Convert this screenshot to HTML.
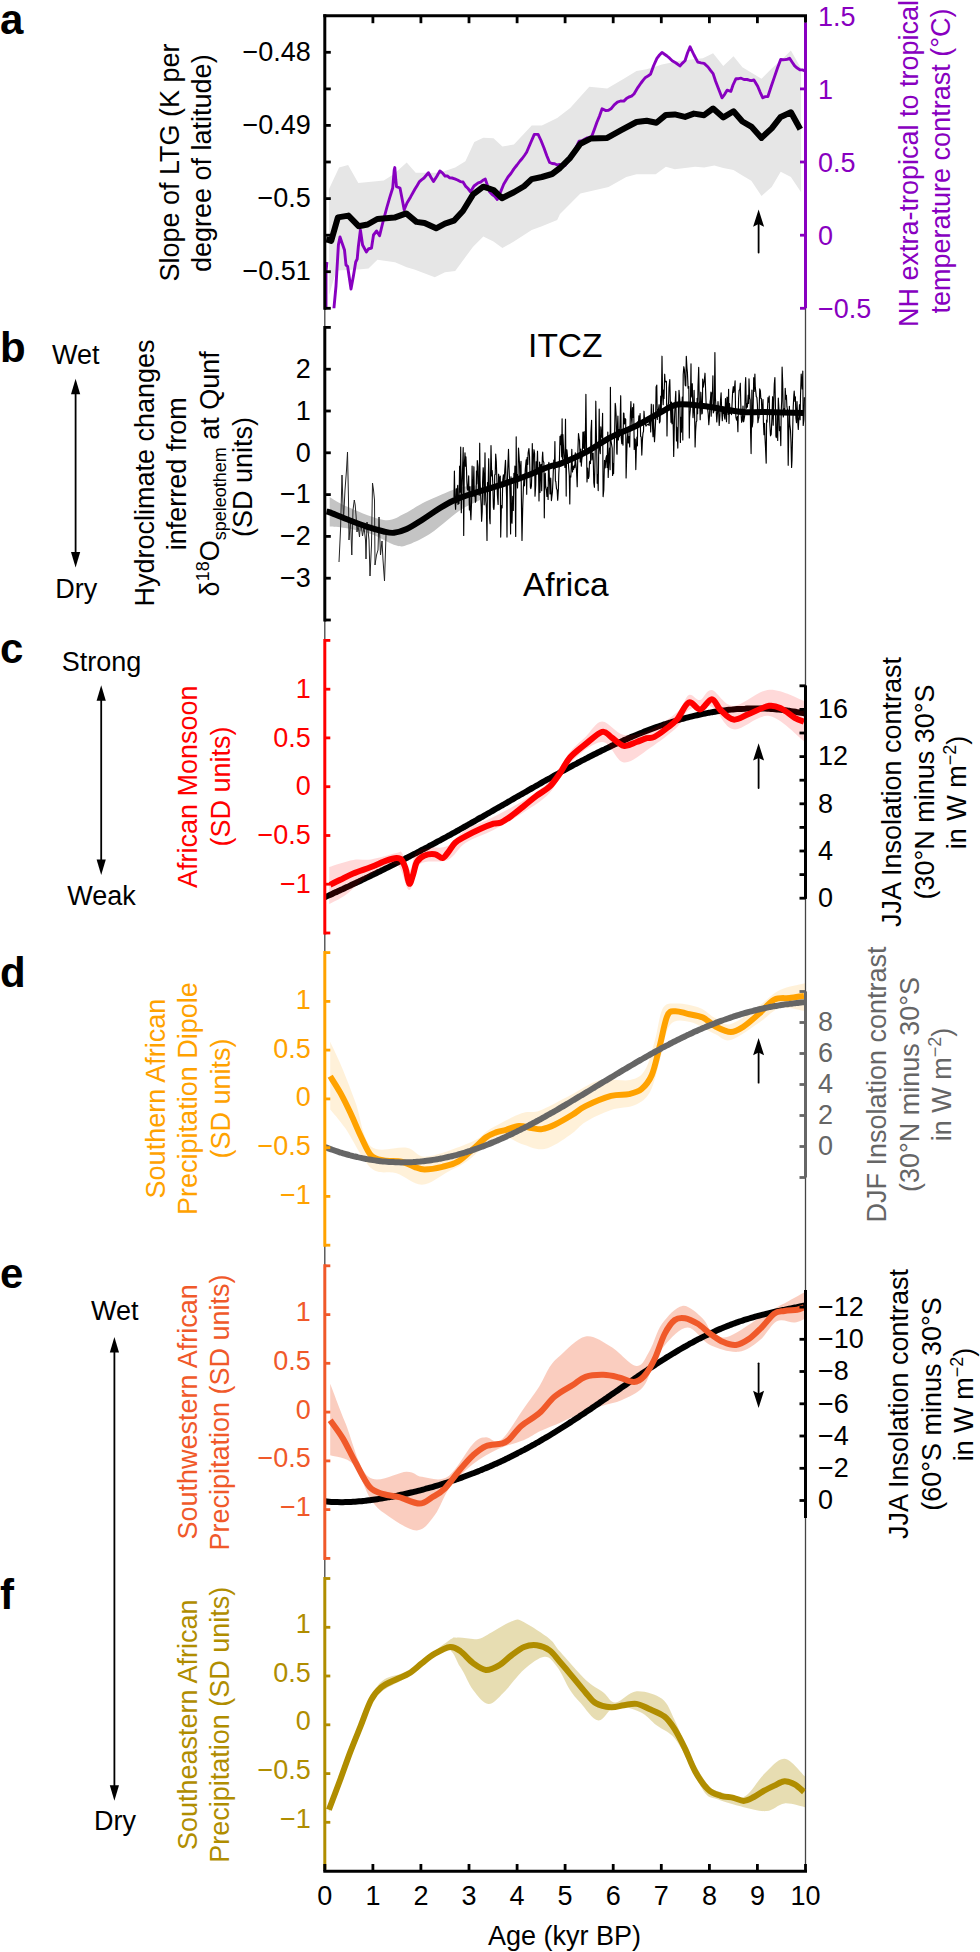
<!DOCTYPE html>
<html><head><meta charset="utf-8"><style>html,body{margin:0;padding:0;background:#fff;overflow:hidden;width:980px;height:1952px;}svg{display:block;}text{font-family:"Liberation Sans",sans-serif;}</style></head>
<body>
<svg width="980" height="1952" viewBox="0 0 980 1952" font-family="Liberation Sans, sans-serif">
<rect width="980" height="1952" fill="#fff"/>
<defs>
<clipPath id="cp0"><rect x="324.8" y="15.7" width="480.7" height="292.6"/></clipPath>
<clipPath id="cp1"><rect x="324.8" y="327.4" width="480.7" height="292.6"/></clipPath>
<clipPath id="cp2"><rect x="324.8" y="640.4" width="480.7" height="292.6"/></clipPath>
<clipPath id="cp3"><rect x="324.8" y="952.6" width="480.7" height="292.6"/></clipPath>
<clipPath id="cp4"><rect x="324.8" y="1265.8" width="480.7" height="292.6"/></clipPath>
<clipPath id="cp5"><rect x="324.8" y="1578.5" width="480.7" height="292.6"/></clipPath>
</defs>
<line x1="324.8" y1="15.7" x2="324.8" y2="1871.5" stroke="#444" stroke-width="1.3" />
<line x1="805.5" y1="15.7" x2="805.5" y2="1871.5" stroke="#444" stroke-width="1.3" />
<path d="M328.9 189.3 L339.1 167.6 L348.1 165 L358.3 182.9 L383.8 180.4 L394 174 L406.7 162.5 L415.7 172.7 L439.9 172.7 L455.2 167.6 L465.4 161.2 L474.3 142.1 L483.3 137.8 L493.5 138.3 L502.4 146.4 L513.9 144.6 L531.7 125.5 L541.9 125.5 L557.2 117.9 L570.2 108 L589.3 86.8 L607.2 88.4 L623.8 78.7 L636.5 71 L646.7 69.2 L662 64.6 L679.9 60.8 L702.9 58.3 L713.1 53.2 L723.3 65.9 L733.5 56.2 L742.4 67.2 L761.5 78.7 L771.7 68.5 L781.9 59.5 L790.9 50.6 L801.1 68.5 L801.1 192.2 L790.9 176.9 L780.7 171.8 L771.7 187.1 L761.5 196 L751.3 180.7 L742.4 175.6 L733.5 170 L723.3 168 L714.3 165.4 L704.1 167.4 L695.2 166.7 L674.8 169.2 L665.9 166.7 L655.7 174.3 L636.5 174.3 L626.3 176.9 L608.5 187.1 L580.4 193.5 L570.2 203.7 L560 213.9 L557.2 219.9 L541.9 226.3 L531.7 230.1 L513.9 241.6 L502.4 248 L493.5 241.6 L483.3 236.5 L473.1 246.7 L455.2 270.9 L445 272.2 L434.8 277.3 L414.4 269.6 L406.7 267.3 L395 262.2 L377.4 259.8 L368.5 268.4 L358.3 269.6 L336.3 270.4 L329.2 295 Z" stroke="none" stroke-width="1" fill="#E6E6E6" clip-path="url(#cp0)"/>
<path d="M333 320 L334 307.5 L336 286 L338.4 244.9 L340 237 L342.4 243.9 L344.5 250 L346 265 L347.6 266.3 L351 289 L353.5 275.5 L355.7 262 L357.2 259 L358.3 247 L360.4 230 L362.6 245 L366.4 252 L368.4 249 L371.5 248 L373.5 235 L376.6 231 L379.6 235.7 L382.7 223 L386.7 208 L389.7 197.6 L392.7 188 L394.2 170 L394.8 167.6 L395.8 180 L396.5 186.7 L400 188 L404.2 209.7 L407 203 L410.6 196.9 L415 189 L417.2 185.4 L419.5 181.6 L421.8 179.6 L424 178 L428.4 172.7 L430.9 177.3 L433.5 181.6 L436.7 176.5 L439.9 170.9 L442.4 172.8 L445 176 L447.3 175.9 L449.7 177.9 L452 178 L454.8 178.8 L457.5 180 L460.3 181.6 L463 182 L465.5 186.1 L468 188.5 L470.5 191.8 L474 186 L478.2 182.9 L480.6 182.2 L482.9 180.3 L485.3 179.1 L489.6 191.8 L492.2 194.6 L494.7 196.4 L497.3 199.5 L500.5 192.1 L503.7 184.2 L508 177 L510.9 173.5 L513.9 168.9 L517 165 L520 161 L522.2 158.5 L524.4 155.5 L526.6 152.3 L531 142 L534.3 134.4 L538.1 134.4 L541 140.5 L544 148 L546.8 155.7 L549.6 162.5 L552.1 163.5 L554.7 163.8 L557.2 165 L559.8 164.4 L562.5 165.9 L565.1 165.4 L567.4 161.9 L569.7 158.8 L572 155 L574.4 151 L576.7 146.1 L579.1 141.2 L582 140.8 L585 139 L587.3 137.9 L589.6 137.5 L591.9 136.1 L594.5 129 L597 122 L599.5 116.1 L602.1 108.8 L605.9 110.6 L608.5 110.3 L611 108.8 L614.2 104.8 L617.4 102.1 L620.6 101 L623.8 101.1 L626.4 98.6 L629 97 L631.5 96.2 L634 94 L637.8 87.6 L641 83 L643.2 80.1 L645.5 77.4 L648 76 L650.6 74.1 L653.5 66 L656.9 58.3 L659.5 55 L662 52.4 L664.5 54.2 L667 56 L669.6 58.2 L672.2 60.8 L676 63 L679.9 65.9 L682.5 63.1 L685 60.8 L687.5 53 L690.1 46.8 L694 55 L697.8 62.1 L701 62.9 L704.1 63.4 L708 67 L710.5 70.4 L713.1 73.6 L715.6 81.2 L719 90 L722 97.8 L724.5 94.6 L727.1 90.2 L730.9 91.4 L733 85 L736 78.7 L738.5 78.7 L741.1 78.2 L744 79.5 L747 79.5 L749.3 80.2 L751.6 80.6 L753.9 80 L757.7 86.3 L760.2 92.3 L762.8 97.8 L765.3 96.6 L767.9 96.5 L771 87 L774.3 77.4 L777.5 68 L780.7 59.5 L782.9 59.8 L785.2 59.6 L787.4 59.2 L789.6 58.3 L792.2 62.2 L794.7 65.9 L797.2 68.1 L799.8 69.7 L802.4 69.9 L805 71" stroke="#8800C0" stroke-width="2.9" fill="none" stroke-linejoin="round" clip-path="url(#cp0)"/>
<path d="M326.9 262 L326 272 L326 320 L333 320" stroke="#8800C0" stroke-width="2.9" fill="none" stroke-linejoin="round" clip-path="url(#cp0)"/>
<path d="M326.2 239.5 L328.2 239.8 L331.2 240.8 L337.9 217.4 L348.4 215.6 L358.6 226.2 L367.6 224.5 L377.3 219 L394.5 217.6 L406.2 213.4 L416.4 221.9 L424.6 223 L436.1 228.3 L445 223.7 L453.9 220.7 L462.9 211 L473.1 194.4 L483.3 186.7 L493.5 190 L501.9 198.2 L513.9 192.3 L524.1 186.2 L531.7 179.1 L541.9 177 L552.1 174 L560 168 L570.2 157.8 L580.4 143.7 L590.6 138.6 L607.2 137.9 L621.2 130.2 L636.5 122 L646.7 120.8 L656.4 122.8 L665.9 114.9 L674.8 114.4 L685 116.9 L693.9 113.6 L704.1 115.2 L713.1 108.5 L723.3 117.4 L733.5 111.3 L742.4 121.5 L751.3 126.6 L761.5 137.9 L771.7 128.4 L780.7 116.9 L790.9 112.3 L800.3 129.2" stroke="#000" stroke-width="6.0" fill="none" stroke-linejoin="round" clip-path="url(#cp0)"/>
<line x1="323.3" y1="15.7" x2="807" y2="15.7" stroke="#000" stroke-width="2.9" />
<line x1="372.9" y1="15.7" x2="372.9" y2="23.2" stroke="#000" stroke-width="2.8" />
<line x1="420.9" y1="15.7" x2="420.9" y2="23.2" stroke="#000" stroke-width="2.8" />
<line x1="469" y1="15.7" x2="469" y2="23.2" stroke="#000" stroke-width="2.8" />
<line x1="517.1" y1="15.7" x2="517.1" y2="23.2" stroke="#000" stroke-width="2.8" />
<line x1="565.1" y1="15.7" x2="565.1" y2="23.2" stroke="#000" stroke-width="2.8" />
<line x1="613.2" y1="15.7" x2="613.2" y2="23.2" stroke="#000" stroke-width="2.8" />
<line x1="661.3" y1="15.7" x2="661.3" y2="23.2" stroke="#000" stroke-width="2.8" />
<line x1="709.4" y1="15.7" x2="709.4" y2="23.2" stroke="#000" stroke-width="2.8" />
<line x1="757.4" y1="15.7" x2="757.4" y2="23.2" stroke="#000" stroke-width="2.8" />
<line x1="324.8" y1="15.7" x2="324.8" y2="308.3" stroke="#000" stroke-width="3" stroke-linecap="square"/>
<line x1="324.8" y1="52.3" x2="330.8" y2="52.3" stroke="#000" stroke-width="2.8" />
<line x1="324.8" y1="88.9" x2="330.8" y2="88.9" stroke="#000" stroke-width="2.8" />
<line x1="324.8" y1="125.4" x2="330.8" y2="125.4" stroke="#000" stroke-width="2.8" />
<line x1="324.8" y1="162" x2="330.8" y2="162" stroke="#000" stroke-width="2.8" />
<line x1="324.8" y1="198.6" x2="330.8" y2="198.6" stroke="#000" stroke-width="2.8" />
<line x1="324.8" y1="235.2" x2="330.8" y2="235.2" stroke="#000" stroke-width="2.8" />
<line x1="324.8" y1="271.7" x2="330.8" y2="271.7" stroke="#000" stroke-width="2.8" />
<line x1="324.8" y1="308.3" x2="330.8" y2="308.3" stroke="#000" stroke-width="2.8" />
<text x="310.8" y="61" font-size="27" text-anchor="end" fill="#000" >&#8722;0.48</text>
<text x="310.8" y="134.1" font-size="27" text-anchor="end" fill="#000" >&#8722;0.49</text>
<text x="310.8" y="207.3" font-size="27" text-anchor="end" fill="#000" >&#8722;0.5</text>
<text x="310.8" y="280.4" font-size="27" text-anchor="end" fill="#000" >&#8722;0.51</text>
<line x1="805.5" y1="15.7" x2="805.5" y2="22.7" stroke="#000" stroke-width="3" />
<line x1="805.5" y1="22.7" x2="805.5" y2="308.3" stroke="#8800C0" stroke-width="3" />
<line x1="805.5" y1="88.9" x2="800" y2="88.9" stroke="#8800C0" stroke-width="2.8" />
<line x1="805.5" y1="162" x2="800" y2="162" stroke="#8800C0" stroke-width="2.8" />
<line x1="805.5" y1="235.2" x2="800" y2="235.2" stroke="#8800C0" stroke-width="2.8" />
<line x1="805.5" y1="308.3" x2="800" y2="308.3" stroke="#8800C0" stroke-width="2.8" />
<text x="818" y="25.6" font-size="27" text-anchor="start" fill="#8800C0" >1.5</text>
<text x="818" y="98.8" font-size="27" text-anchor="start" fill="#8800C0" >1</text>
<text x="818" y="171.9" font-size="27" text-anchor="start" fill="#8800C0" >0.5</text>
<text x="818" y="245" font-size="27" text-anchor="start" fill="#8800C0" >0</text>
<text x="818" y="318.2" font-size="27" text-anchor="start" fill="#8800C0" >&#8722;0.5</text>
<text transform="translate(178.6 162.5) rotate(-90)" font-size="27" text-anchor="middle" fill="#000">Slope of LTG (K per</text>
<text transform="translate(210.6 163.2) rotate(-90)" font-size="27" text-anchor="middle" fill="#000">degree of latitude)</text>
<text transform="translate(917.5 163.5) rotate(-90)" font-size="27" text-anchor="middle" fill="#8800C0">NH extra-tropical to tropical</text>
<text transform="translate(950.1 161) rotate(-90)" font-size="27" text-anchor="middle" fill="#8800C0">temperature contrast (&#176;C)</text>
<line x1="758.6" y1="222.8" x2="758.6" y2="252.5" stroke="#000" stroke-width="1.8" stroke-linecap="round"/>
<path d="M758.6 209.5 L753.1 226.8 L758.6 224.1 L764.1 226.8 Z" fill="#000"/>
<text x="0" y="33.8" font-size="42" text-anchor="start" fill="#000" font-weight="bold" >a</text>
<path d="M329.7 497.1 C332.3 498.6 336.5 502.2 345.5 506 C354.5 509.8 374 518.7 383.8 520 C393.6 521.3 397.8 516.5 404.2 513.7 C410.6 511 414.8 507.1 422 503.5 C429.2 499.9 440.8 494.8 447.6 492 C454.4 489.2 457.5 488.2 462.9 487 C468.3 485.8 477.1 485.3 480 485 L480 500 C477.1 501.4 468.3 505.3 462.9 508.6 C457.5 511.9 453.1 515.8 447.6 520 C442.1 524.2 436.1 530.1 429.7 534.1 C423.3 538.1 414.8 542.4 409.3 544.3 C403.8 546.2 402.9 547.3 396.5 545.6 C390.1 543.9 379.5 537 371 534.1 C362.5 531.2 352.4 529.3 345.5 528 C338.6 526.7 332.3 526.7 329.7 526.4 Z" stroke="none" stroke-width="1" fill="#C4C4C4" clip-path="url(#cp1)"/>
<path d="M339 562 L340.5 530 L342 475 L343.5 520 L345 490 L346.5 470 L347.5 452 L348.5 500 L349 540 L350.5 520 L351.8 555 L353 510 L354.3 500 L355.2 505 L356 515 L357 532 L358 525 L359.5 537 L360.5 522 L361.5 528 L362.5 536 L364 527 L365.5 540 L366 559 L367 522 L368 530 L369 540 L370 576 L371.5 545 L372.5 483 L373.5 490 L374.5 500 L375 565 L376.5 555 L378 550 L379 517 L380.5 555 L382 541 L383 560 L384.5 581 L386 535 L386.6 530" stroke="#222" stroke-width="1.0" fill="none" stroke-linejoin="round"/>
<path d="M454 496.9 L454.4 471.1 L454.9 499.5 L455.6 509.3 L456.3 488.7 L456.7 502.7 L457.1 492.1 L457.7 485.3 L458 504.4 L458.6 495.1 L459 503.5 L459.6 466.2 L460.1 492.2 L460.7 447 L461.3 512.7 L461.9 487.2 L462.6 468.1 L463.2 447.6 L463.7 535.5 L464.3 464.9 L465 452.8 L465.4 466.2 L465.9 456.9 L466.5 470 L466.9 482.8 L467.3 489 L467.9 490.2 L468.7 475.9 L469.4 509.9 L469.9 486.8 L470.3 509.1 L470.9 519.7 L471.6 500.8 L472.1 466.1 L472.7 496 L473.2 491.3 L473.9 466.7 L474.3 496.2 L475 493.6 L475.4 502.3 L475.9 500.9 L476.5 471.1 L476.9 484.1 L477.3 460.5 L478 466.5 L478.5 487.4 L479.2 495.3 L479.7 443.2 L480.1 481 L480.8 498.5 L481.2 506.3 L481.6 521.3 L482.2 511.8 L482.6 481.7 L483.2 467.7 L483.6 474.3 L484.2 504.8 L485 452.9 L485.4 487.1 L485.8 501 L486.4 507.8 L487 540.4 L487.5 482.6 L488.1 489.3 L488.7 458.7 L489.1 476.3 L489.6 518.2 L490.1 523.7 L490.6 472.5 L491 445.5 L491.7 476 L492.2 470.5 L492.8 483.7 L493.4 507.4 L493.9 509.5 L494.3 504.3 L494.7 474.9 L495.2 474.7 L495.7 454 L496.3 461.7 L497 483.2 L497.4 495 L498.1 504.4 L498.6 474.2 L499.1 477.9 L499.8 483.4 L500.3 476 L500.7 537.1 L501.4 505.6 L502.1 507.9 L502.8 479.9 L503.4 474.9 L504.1 482.6 L504.8 469.9 L505.5 460.4 L506.2 485.6 L506.6 497 L507 537.1 L507.4 480.2 L507.7 470.6 L508.5 449.4 L509 466.8 L509.6 480.5 L510.1 499.7 L510.6 533.9 L511 476.7 L511.6 520.1 L512 523.2 L512.7 496.4 L513.3 510.5 L513.9 473.3 L514.6 477.9 L514.9 466.1 L515.7 536.4 L516.2 436.8 L516.5 480.5 L517.1 474.5 L517.5 487.9 L518 474.3 L518.5 448 L519.1 456.9 L519.5 463.4 L519.9 480.7 L520.5 468.2 L521 461.4 L521.5 507.9 L522 540.5 L522.7 507.7 L523.4 487.4 L524 477.9 L524.5 485.8 L525.3 469 L525.8 463.8 L526.2 459.8 L526.7 494.3 L527.1 457.6 L527.8 464.4 L528.1 453.2 L528.9 448.6 L529.5 456.3 L530.1 477.4 L530.4 487.6 L530.8 488.6 L531.4 486.2 L531.9 472 L532.3 443.6 L532.9 474.6 L533.5 456.1 L534 449.7 L534.6 453.6 L535 496.2 L535.7 485.5 L536.2 461.7 L536.8 470.8 L537.5 451.2 L538 473.7 L538.5 467.9 L539 500.9 L539.6 462 L540 492.4 L540.7 465.1 L541.1 464.4 L541.7 490.7 L542.3 457.8 L542.7 452.1 L543.1 460.6 L543.9 462.8 L544.3 517.8 L544.8 477.2 L545.3 473.2 L545.7 486.7 L546.4 489.8 L546.9 496.5 L547.6 487.3 L548.1 499.4 L548.5 465.2 L548.9 462.3 L549.3 475.4 L550 494 L550.7 478.1 L551.4 500.6 L551.9 496.3 L552.4 492.2 L552.9 481.5 L553.3 471.3 L553.8 460.1 L554.4 468.6 L554.9 441.6 L555.4 481.1 L555.8 481.5 L556.5 488.7 L557.1 489.7 L557.7 500.3 L558.4 488.9 L558.8 473.8 L559.3 464.8 L560 436.3 L560.5 444.6 L561.1 434.8 L561.7 456.8 L562.1 418.8 L562.5 459.1 L562.9 434.6 L563.6 449.6 L564.1 459.8 L564.5 460.7 L564.9 467.5 L565.5 419.2 L566.2 496.1 L566.5 453.1 L566.9 449.7 L567.6 457.3 L568.2 459.2 L568.6 467.2 L569.3 475.4 L569.8 503.9 L570.2 476.2 L570.8 477.1 L571.3 466.9 L571.8 449.3 L572.5 472 L573.1 466.6 L573.6 469.4 L574.2 465.4 L574.8 467.7 L575.3 452.9 L575.8 462.6 L576.5 470.4 L577.2 486.7 L577.9 451 L578.5 433.5 L579.1 438.6 L579.5 440.1 L580.2 461.9 L580.8 449.1 L581.3 466.1 L581.8 459.3 L582.3 456.1 L582.9 432.2 L583.6 448.2 L584.1 431.5 L584.7 452 L585.2 450.4 L585.9 394.3 L586.5 444.7 L587 481.9 L587.7 468 L588.4 478.5 L589 476 L589.5 462 L589.8 461.2 L590.5 463.6 L590.9 432.5 L591.6 420.3 L591.9 460 L592.6 453.7 L593.1 453.1 L593.8 482.6 L594.4 487.3 L594.8 471.4 L595.4 441.7 L595.8 401.2 L596.3 430.8 L596.8 453.9 L597.2 483.3 L597.7 474.7 L598.2 490.6 L598.8 441.7 L599.2 409.1 L599.6 447.5 L600.3 453.6 L600.8 426.8 L601.3 434.2 L602 438 L602.6 413.3 L603.1 496.6 L603.8 490 L604.5 460.4 L605.2 467.9 L605.9 458.5 L606.6 455.7 L607.1 467.6 L607.8 432 L608.2 477.4 L608.9 458 L609.5 448.2 L610.1 469.7 L610.4 387.3 L610.8 439.5 L611.5 443.8 L612.2 448.2 L612.6 475.5 L613.2 463.9 L613.6 473.6 L614.1 450.7 L614.5 438.3 L615.2 403.4 L615.6 406.2 L616.1 414.6 L616.8 453.1 L617.1 454.3 L617.5 425.3 L617.9 416.1 L618.4 440 L619 429.5 L619.4 436.7 L620 425.3 L620.7 395.7 L621.2 437.1 L621.8 443.7 L622.4 434.5 L623 445.1 L623.5 413.1 L623.9 413.3 L624.5 424 L625.1 418.5 L625.7 419.3 L626.1 477.9 L626.7 455.8 L627.2 439.3 L627.9 431.5 L628.3 442.9 L629 436.5 L629.7 447 L630.3 416.6 L630.9 401.5 L631.5 418.4 L632 424.7 L632.5 407.6 L633.2 417.3 L633.7 403.8 L634.2 449.4 L634.6 438.7 L635.3 439.4 L635.8 469.6 L636.4 446.2 L636.9 437.2 L637.4 445.8 L637.7 421.8 L638.2 425.9 L638.9 415.9 L639.4 426 L640.1 413.6 L640.6 436.4 L641.2 437 L641.8 455.1 L642.5 438.8 L643 433 L643.5 431.4 L644 411.2 L644.7 422 L645.4 424.3 L646 426.1 L646.6 424.9 L647.1 424.9 L647.8 424.4 L648.4 424.4 L649.1 425.5 L649.6 417.6 L650.2 415.9 L650.7 431.9 L651.3 404.2 L651.6 418 L652.3 422.2 L653 436.7 L653.3 404.7 L653.8 426.1 L654.5 441.7 L655 433.3 L655.6 420.9 L656.1 387 L656.8 385.1 L657.3 419.5 L657.8 409.6 L658.4 410.1 L659.1 404.7 L659.5 422.9 L660.1 421.3 L660.7 396.2 L661.3 409.3 L662 356.2 L662.6 395.8 L663.2 404.7 L663.6 390.1 L664 398.4 L664.7 374.2 L665 380.2 L665.8 382.1 L666.4 381.3 L667 436 L667.4 410.6 L667.9 405.9 L668.6 402.8 L669 387.5 L669.8 379.6 L670.4 405.1 L671 422.3 L671.4 402 L672 423.8 L672.6 404 L673.3 429.9 L673.7 456.4 L674.4 421.5 L675.1 403.6 L675.8 391.4 L676.5 440.9 L676.9 427.2 L677.4 438.3 L677.8 448.1 L678.5 407.6 L679 390.3 L679.8 399.7 L680.4 442.5 L680.8 417.4 L681.4 432.1 L681.9 406 L682.3 397 L682.8 440 L683.2 374.8 L683.8 366.7 L684.5 370.4 L685.2 385.1 L685.8 386 L686.3 356.3 L687 368.4 L687.4 372.3 L688.1 388.1 L688.8 386.5 L689.3 438 L689.6 417.4 L690.3 410 L691 363.8 L691.3 397 L691.8 387 L692.3 383.7 L693 417.6 L693.7 408.4 L694.1 390.4 L694.8 425.7 L695.1 446.9 L695.6 431.5 L696.2 422.1 L696.8 420.7 L697.1 398.3 L697.6 413.8 L698 386.2 L698.7 367.4 L699.3 401.3 L699.8 403.8 L700.2 419.7 L700.8 392.2 L701.3 401.4 L701.8 413.9 L702.3 413.1 L702.7 379 L703.3 387.1 L703.9 383.3 L704.3 380.7 L705 373.2 L705.6 389.8 L706.3 408.2 L706.8 405 L707.4 407.4 L708.2 413.8 L708.8 424.7 L709.4 417.4 L710.1 401.7 L710.5 399 L710.9 392 L711.2 416.2 L711.9 393.6 L712.5 391.8 L712.9 375.8 L713.3 412.9 L713.8 411.6 L714.3 409.4 L714.9 352.5 L715.4 397.8 L716.1 408.7 L716.8 421.9 L717.5 412.3 L718 401.5 L718.6 410.6 L719.2 425.4 L719.9 415.6 L720.4 402.1 L721.1 392.8 L721.6 408.7 L722.3 420.6 L722.8 410.6 L723.2 413.4 L723.7 407.3 L724.3 415.9 L724.9 419.2 L725.5 398.5 L725.9 407.6 L726.5 421.7 L727 397 L727.7 398 L728.1 414.3 L728.6 389.3 L729 423.4 L729.5 403.6 L730.2 413.4 L730.8 410.1 L731.5 414.7 L731.8 410.1 L732.6 392.4 L733.3 386.5 L733.8 392.5 L734.4 389 L735.1 380.8 L735.5 407.2 L735.9 417.3 L736.6 420.1 L737.3 416.5 L737.9 431.7 L738.6 398.4 L739.1 390.6 L739.8 389.2 L740.3 383.2 L741 412.1 L741.6 422.3 L742.3 420.7 L743 406 L743.6 421.8 L744.1 419.5 L744.7 415.7 L745.3 385.2 L745.7 377.5 L746.3 408.5 L746.9 403.8 L747.4 407.1 L748.2 395.1 L748.6 403.4 L749 378.9 L749.7 398 L750.2 399.9 L750.6 432.8 L751.1 453.6 L751.9 390.1 L752.2 427 L752.9 421.4 L753.7 377.7 L754.2 391.5 L754.9 374.1 L755.3 387.4 L755.8 391.9 L756.3 396.7 L756.9 397.5 L757.4 404.8 L757.9 422.7 L758.3 419.9 L759 417 L759.7 388.9 L760.4 391 L760.8 398.4 L761.4 398.6 L761.8 410.5 L762.4 410.2 L763 399.6 L763.4 422.5 L764 434.7 L764.6 423.4 L765 438 L765.5 447.1 L766.2 463.1 L766.6 420.1 L767.1 422.3 L767.5 408.8 L768 397.7 L768.5 402.1 L769.2 396 L769.7 422.2 L770.5 435.8 L771.2 434.2 L771.9 417.9 L772.6 396.7 L773.2 425.2 L773.8 399.1 L774.3 384.1 L774.9 377.6 L775.5 409.7 L775.9 436.2 L776.3 437.6 L776.8 432.2 L777.2 414.9 L777.7 440.4 L778.3 398.1 L778.9 408.3 L779.4 430.6 L780.2 426.8 L780.8 445.6 L781.2 411.2 L781.7 400.7 L782.1 367.1 L782.7 382.8 L783.3 417 L783.8 412.1 L784.4 408.4 L784.8 410.2 L785.2 388.3 L785.9 399.2 L786.4 395.3 L786.9 406.7 L787.6 410.7 L788.2 465.3 L788.6 440 L789.4 406.3 L789.8 424.1 L790.5 430.1 L791 442.2 L791.6 467.4 L792 460.1 L792.6 434.6 L793.2 407.9 L793.8 395.7 L794.2 391 L794.9 401.3 L795.4 396.9 L795.9 417.9 L796.5 422.6 L797 401.5 L797.4 411.8 L797.9 424.3 L798.3 429.4 L798.9 417.4 L799.5 404.7 L800.1 419.8 L800.5 396.2 L801.2 374 L801.8 383 L802.2 388.9 L802.8 371.1 L803.2 425.4 L803.9 419.5 L804.4 397.3" stroke="#000" stroke-width="1.15" fill="none" stroke-linejoin="round" clip-path="url(#cp1)"/>
<path d="M326.5 511.5 C327 511.6 326.5 511.2 329.7 512.4 C332.9 513.6 339.5 516.5 345.5 518.8 C351.5 521.1 359.5 524.3 365.9 526.4 C372.3 528.5 379.1 530.4 383.8 531.5 C388.5 532.6 390.2 533.2 394 532.8 C397.8 532.4 402 531.1 406.7 529 C411.4 526.9 416.9 523.2 422 520 C427.1 516.8 432.2 513 437.3 509.8 C442.4 506.6 446.7 503.6 452.7 500.9 C458.7 498.1 465.5 495.9 473.1 493.3 C480.8 490.8 490.1 488.4 498.6 485.6 C507.1 482.8 515.6 479.9 524.1 476.7 C532.6 473.5 543.6 468.6 549.6 466.5 C555.6 464.4 554 466.2 560 463.9 C566 461.5 577 456.9 585.5 452.4 C594 447.9 602.5 441.6 611 437.1 C619.5 432.7 628 429.9 636.5 425.7 C645 421.4 655.2 415.1 662 411.6 C668.8 408.1 670.5 405.4 677.3 404.5 C684.1 403.6 695.2 405.2 702.9 406 C710.6 406.8 716.5 408.1 723.3 409.1 C730.1 410.1 736.9 411.6 743.7 412.1 C750.5 412.6 754.1 412 764.1 412.1 C774.1 412.2 797.4 412.8 804 412.9" stroke="#000" stroke-width="6.0" fill="none" stroke-linecap="butt" clip-path="url(#cp1)"/>
<line x1="324.8" y1="327.4" x2="324.8" y2="620" stroke="#000" stroke-width="3" stroke-linecap="square"/>
<line x1="324.8" y1="327.4" x2="330.8" y2="327.4" stroke="#000" stroke-width="2.8" />
<line x1="324.8" y1="369.2" x2="330.8" y2="369.2" stroke="#000" stroke-width="2.8" />
<line x1="324.8" y1="411" x2="330.8" y2="411" stroke="#000" stroke-width="2.8" />
<line x1="324.8" y1="452.8" x2="330.8" y2="452.8" stroke="#000" stroke-width="2.8" />
<line x1="324.8" y1="494.6" x2="330.8" y2="494.6" stroke="#000" stroke-width="2.8" />
<line x1="324.8" y1="536.4" x2="330.8" y2="536.4" stroke="#000" stroke-width="2.8" />
<line x1="324.8" y1="578.2" x2="330.8" y2="578.2" stroke="#000" stroke-width="2.8" />
<line x1="324.8" y1="620" x2="330.8" y2="620" stroke="#000" stroke-width="2.8" />
<text x="310.8" y="377.9" font-size="27" text-anchor="end" fill="#000" >2</text>
<text x="310.8" y="419.7" font-size="27" text-anchor="end" fill="#000" >1</text>
<text x="310.8" y="461.5" font-size="27" text-anchor="end" fill="#000" >0</text>
<text x="310.8" y="503.3" font-size="27" text-anchor="end" fill="#000" >&#8722;1</text>
<text x="310.8" y="545.1" font-size="27" text-anchor="end" fill="#000" >&#8722;2</text>
<text x="310.8" y="586.9" font-size="27" text-anchor="end" fill="#000" >&#8722;3</text>
<text x="528.1" y="356.5" font-size="33.5" text-anchor="start" fill="#000" >ITCZ</text>
<text x="523" y="595.7" font-size="33.5" text-anchor="start" fill="#000" >Africa</text>
<text x="0" y="362" font-size="42" text-anchor="start" fill="#000" font-weight="bold" >b</text>
<text x="75.7" y="364" font-size="27" text-anchor="middle" fill="#000" >Wet</text>
<text x="76.3" y="598.1" font-size="27" text-anchor="middle" fill="#000" >Dry</text>
<line x1="75.6" y1="393.3" x2="75.6" y2="553" stroke="#000" stroke-width="1.8" />
<path d="M75.6 378.8 L71 394.3 L80.2 394.3 Z" fill="#000"/>
<path d="M75.6 567.5 L71 552 L80.2 552 Z" fill="#000"/>
<text transform="translate(154.2 473) rotate(-90)" font-size="27" text-anchor="middle" fill="#000">Hydroclimate changes</text>
<text transform="translate(186.3 473.8) rotate(-90)" font-size="27" text-anchor="middle" fill="#000">inferred from</text>
<text transform="translate(219.2 473.8) rotate(-90)" font-size="27" text-anchor="middle" fill="#000">&#948;<tspan font-size="18" dy="-10">18</tspan><tspan dy="10">O</tspan><tspan font-size="18" dy="6.5">speleothem</tspan><tspan dy="-6.5"> at Qunf</tspan></text>
<text transform="translate(252 477) rotate(-90)" font-size="27" text-anchor="middle" fill="#000">(SD units)</text>
<path d="M325 897.2 C325.7 896.9 327.7 896 329 895.4 C330.3 894.8 331.7 894.1 333 893.5 C334.3 892.9 335.7 892.3 337 891.7 C338.3 891.1 339.7 890.4 341 889.8 C342.3 889.2 343.7 888.6 345 888 C346.3 887.4 347.7 886.7 349 886.1 C350.3 885.5 351.7 884.9 353 884.2 C354.3 883.6 355.7 883 357 882.3 C358.3 881.7 359.7 881.1 361 880.5 C362.3 879.8 363.7 879.2 365 878.6 C366.3 877.9 367.7 877.3 369 876.6 C370.3 876 371.7 875.4 373 874.7 C374.3 874.1 375.7 873.4 377 872.8 C378.3 872.1 379.7 871.5 381 870.8 C382.3 870.2 383.7 869.5 385 868.8 C386.3 868.2 387.7 867.5 389 866.9 C390.3 866.2 391.7 865.5 393 864.9 C394.3 864.2 395.7 863.5 397 862.9 C398.3 862.2 399.7 861.5 401 860.8 C402.3 860.2 403.7 859.5 405 858.8 C406.3 858.1 407.7 857.4 409 856.7 C410.3 856.1 411.7 855.4 413 854.7 C414.3 854 415.7 853.3 417 852.6 C418.3 851.9 419.7 851.2 421 850.5 C422.3 849.8 423.7 849.1 425 848.4 C426.3 847.7 427.7 847 429 846.2 C430.3 845.5 431.7 844.8 433 844.1 C434.3 843.4 435.7 842.7 437 841.9 C438.3 841.2 439.7 840.5 441 839.8 C442.3 839 443.7 838.3 445 837.6 C446.3 836.9 447.7 836.1 449 835.4 C450.3 834.7 451.7 833.9 453 833.2 C454.3 832.4 455.7 831.7 457 831 C458.3 830.2 459.7 829.5 461 828.7 C462.3 828 463.7 827.2 465 826.5 C466.3 825.7 467.7 825 469 824.2 C470.3 823.5 471.7 822.7 473 822 C474.3 821.2 475.7 820.5 477 819.7 C478.3 819 479.7 818.2 481 817.4 C482.3 816.7 483.7 815.9 485 815.2 C486.3 814.4 487.7 813.6 489 812.9 C490.3 812.1 491.7 811.4 493 810.6 C494.3 809.8 495.7 809.1 497 808.3 C498.3 807.5 499.7 806.8 501 806 C502.3 805.2 503.7 804.5 505 803.7 C506.3 802.9 507.7 802.2 509 801.4 C510.3 800.6 511.7 799.9 513 799.1 C514.3 798.3 515.7 797.6 517 796.8 C518.3 796 519.7 795.3 521 794.5 C522.3 793.7 523.7 793 525 792.2 C526.3 791.4 527.7 790.7 529 789.9 C530.3 789.2 531.7 788.4 533 787.6 C534.3 786.9 535.7 786.1 537 785.4 C538.3 784.6 539.7 783.9 541 783.1 C542.3 782.3 543.7 781.6 545 780.8 C546.3 780.1 547.7 779.3 549 778.6 C550.3 777.9 551.7 777.1 553 776.4 C554.3 775.6 555.7 774.9 557 774.2 C558.3 773.4 559.7 772.7 561 771.9 C562.3 771.2 563.7 770.5 565 769.8 C566.3 769 567.7 768.3 569 767.6 C570.3 766.9 571.7 766.2 573 765.4 C574.3 764.7 575.7 764 577 763.3 C578.3 762.6 579.7 761.9 581 761.2 C582.3 760.5 583.7 759.8 585 759.1 C586.3 758.4 587.7 757.7 589 757 C590.3 756.4 591.7 755.7 593 755 C594.3 754.3 595.7 753.7 597 753 C598.3 752.3 599.7 751.7 601 751 C602.3 750.4 603.7 749.7 605 749.1 C606.3 748.4 607.7 747.8 609 747.1 C610.3 746.5 611.7 745.9 613 745.2 C614.3 744.6 615.7 744 617 743.4 C618.3 742.8 619.7 742.2 621 741.6 C622.3 741 623.7 740.4 625 739.8 C626.3 739.2 627.7 738.6 629 738 C630.3 737.5 631.7 736.9 633 736.3 C634.3 735.8 635.7 735.2 637 734.6 C638.3 734.1 639.7 733.6 641 733 C642.3 732.5 643.7 731.9 645 731.4 C646.3 730.9 647.7 730.4 649 729.9 C650.3 729.4 651.7 728.9 653 728.4 C654.3 727.9 655.7 727.4 657 726.9 C658.3 726.5 659.7 726 661 725.5 C662.3 725.1 663.7 724.6 665 724.2 C666.3 723.7 667.7 723.3 669 722.9 C670.3 722.4 671.7 722 673 721.6 C674.3 721.2 675.7 720.8 677 720.4 C678.3 720 679.7 719.6 681 719.2 C682.3 718.9 683.7 718.5 685 718.1 C686.3 717.8 687.7 717.4 689 717.1 C690.3 716.8 691.7 716.4 693 716.1 C694.3 715.8 695.7 715.5 697 715.2 C698.3 714.9 699.7 714.6 701 714.3 C702.3 714 703.7 713.7 705 713.5 C706.3 713.2 707.7 713 709 712.7 C710.3 712.5 711.7 712.2 713 712 C714.3 711.8 715.7 711.6 717 711.4 C718.3 711.2 719.7 711 721 710.8 C722.3 710.6 723.7 710.4 725 710.3 C726.3 710.1 727.7 710 729 709.8 C730.3 709.7 731.7 709.6 733 709.4 C734.3 709.3 735.7 709.2 737 709.1 C738.3 709 739.7 708.9 741 708.9 C742.3 708.8 743.7 708.7 745 708.7 C746.3 708.6 747.7 708.6 749 708.5 C750.3 708.5 751.7 708.5 753 708.5 C754.3 708.4 755.7 708.4 757 708.5 C758.3 708.5 759.7 708.5 761 708.5 C762.3 708.5 763.7 708.6 765 708.6 C766.3 708.7 767.7 708.8 769 708.8 C770.3 708.9 771.7 709 773 709.1 C774.3 709.2 775.7 709.3 777 709.4 C778.3 709.6 779.7 709.7 781 709.8 C782.3 710 783.7 710.1 785 710.3 C786.3 710.5 787.7 710.6 789 710.8 C790.3 711 791.7 711.2 793 711.4 C794.3 711.6 795.7 711.8 797 712.1 C798.3 712.3 799.7 712.5 801 712.8 C802.3 713 804.3 713.4 805 713.6" stroke="#000" stroke-width="6.0" fill="none" clip-path="url(#cp2)"/>
<path d="M329.2 867 C333.2 865.8 346.2 861.3 353.2 860 C360.2 858.7 363.8 860.6 371 859.4 C378.2 858.2 391.3 854.1 396.5 853 C401.7 851.9 399.8 850.2 402 853 C404.2 855.8 407.7 870 410 870 C412.3 870 412.7 856.7 416 853 C419.3 849.3 424.7 849.2 430 848 C435.3 846.8 441.7 849 447.6 846 C453.5 843 457.8 834.8 465.4 830 C473 825.2 483.7 822 493.5 817 C503.3 812 514.8 806 524.1 800 C533.5 794 542 789 549.6 781 C557.2 773 564 759.3 570 752 C576 744.7 580.1 742.1 585.5 737 C590.9 731.9 595.7 721.9 602.1 721.6 C608.5 721.3 615.8 733.6 623.8 735 C631.8 736.4 641.1 733.8 650 730 C658.9 726.2 670.8 717.8 677.3 712 C683.8 706.2 685 697 688.8 695 C692.6 693 696.2 700.8 700 700 C703.8 699.2 706.2 689 711.8 690 C717.4 691 723.9 706 733.5 706 C743.1 706 757.3 690.5 769.2 689.7 C781.1 688.9 799 699.3 805 701.2 L805 742 C799 737.7 781.1 718.1 769.2 716 C757.3 713.9 743.1 730.8 733.5 729.3 C723.9 727.8 719.2 710.2 711.8 707 C704.3 703.8 694.5 706.7 688.8 710 C683 713.3 683.8 720.7 677.3 727 C670.8 733.3 658.9 742.1 650 748 C641.1 753.9 631.8 763.4 623.8 762.4 C615.8 761.4 611.1 741.9 602.1 742 C593.1 742.1 578.8 754.5 570 763 C561.2 771.5 557.2 784.8 549.6 793 C542 801.2 533.5 805.8 524.1 812 C514.8 818.2 503.3 824.8 493.5 830 C483.7 835.2 473 838 465.4 843 C457.8 848 455.2 856.5 447.6 860 C440 863.5 426.4 859 420 864 C413.6 869 413.2 890 409.3 890 C405.4 890 402.9 866.7 396.5 864 C390.1 861.3 379.5 868.8 371 874 C362.5 879.2 352.5 890 345.5 895 C338.5 900 331.9 902.5 329.2 904 Z" stroke="none" stroke-width="1" fill="#FF0000" fill-opacity="0.15" clip-path="url(#cp2)"/>
<path d="M330.1 884.9 C331.8 884 336.5 881.7 340.4 879.8 C344.2 877.9 348.1 875.5 353.2 873.4 C358.3 871.3 365.5 869.1 371 867 C376.5 864.9 382.1 862.2 386.3 860.7 C390.6 859.2 393.9 858.2 396.5 858.1 C399.1 858 400.1 858.2 401.6 859.9 C403.1 861.6 404.2 864.3 405.5 868.3 C406.8 872.2 408 882.5 409.3 883.6 C410.6 884.7 411.8 878.3 413.1 874.7 C414.4 871.1 415 865.1 416.9 861.9 C418.8 858.7 421.6 856.9 424.6 855.6 C427.6 854.3 431.8 853.9 434.8 854.3 C437.8 854.7 440.3 858.3 442.4 858.1 C444.5 857.9 445.5 855.5 447.6 853 C449.7 850.5 452.2 845.6 455.2 842.8 C458.2 840 461.1 838.7 465.4 836.4 C469.6 834.1 476 830.9 480.7 828.8 C485.4 826.7 490.1 824.8 493.5 823.7 C496.9 822.6 498.1 823.7 501.1 822.4 C504.1 821.1 507.5 818.8 511.3 816 C515.1 813.2 519.9 809.2 524.1 805.8 C528.4 802.4 532.5 798.8 536.8 795.6 C541 792.4 545.8 790.4 549.6 786.7 C553.4 783 556.4 778.4 559.8 773.5 C563.2 768.6 565.9 762.2 570.2 757.3 C574.5 752.4 580.2 748.4 585.5 744.1 C590.8 739.9 597.9 733 602.1 731.8 C606.4 730.6 607.4 734.5 611 736.9 C614.6 739.2 619.5 745 623.8 745.9 C628 746.8 632.7 743.3 636.5 742 C640.3 740.7 643.7 739.1 646.7 738.2 C649.7 737.4 651 738.6 654.4 736.9 C657.8 735.2 663.3 731 667.1 728 C670.9 725 673.7 723.4 677.3 719.1 C680.9 714.9 685 704.1 688.8 702.5 C692.6 700.9 696.5 709.9 700.3 709.4 C704.1 708.9 708.4 699.1 711.8 699.2 C715.2 699.3 717.1 706.8 720.7 710.2 C724.3 713.6 728.8 719 733.5 719.6 C738.2 720.2 742.8 716.3 748.8 714 C754.8 711.7 763.7 706.6 769.2 705.8 C774.7 704.9 777.6 706.9 781.9 708.9 C786.1 710.9 791 715.7 794.7 717.8 C798.4 719.9 802.5 721 804 721.6" stroke="#FF0000" stroke-width="6.0" fill="none" stroke-linejoin="round" clip-path="url(#cp2)"/>
<line x1="324.8" y1="640.4" x2="324.8" y2="933" stroke="#FF0000" stroke-width="3" stroke-linecap="square"/>
<line x1="324.8" y1="640.4" x2="330.3" y2="640.4" stroke="#FF0000" stroke-width="2.8" />
<line x1="324.8" y1="689.2" x2="330.3" y2="689.2" stroke="#FF0000" stroke-width="2.8" />
<line x1="324.8" y1="737.9" x2="330.3" y2="737.9" stroke="#FF0000" stroke-width="2.8" />
<line x1="324.8" y1="786.7" x2="330.3" y2="786.7" stroke="#FF0000" stroke-width="2.8" />
<line x1="324.8" y1="835.5" x2="330.3" y2="835.5" stroke="#FF0000" stroke-width="2.8" />
<line x1="324.8" y1="884.2" x2="330.3" y2="884.2" stroke="#FF0000" stroke-width="2.8" />
<line x1="324.8" y1="933" x2="330.3" y2="933" stroke="#FF0000" stroke-width="2.8" />
<text x="310.8" y="697.9" font-size="27" text-anchor="end" fill="#FF0000" >1</text>
<text x="310.8" y="746.6" font-size="27" text-anchor="end" fill="#FF0000" >0.5</text>
<text x="310.8" y="795.4" font-size="27" text-anchor="end" fill="#FF0000" >0</text>
<text x="310.8" y="844.2" font-size="27" text-anchor="end" fill="#FF0000" >&#8722;0.5</text>
<text x="310.8" y="892.9" font-size="27" text-anchor="end" fill="#FF0000" >&#8722;1</text>
<line x1="805.5" y1="685.4" x2="805.5" y2="898.9" stroke="#000" stroke-width="3" />
<line x1="805.5" y1="898.2" x2="799.5" y2="898.2" stroke="#000" stroke-width="2.8" />
<line x1="805.5" y1="874.6" x2="799.5" y2="874.6" stroke="#000" stroke-width="2.8" />
<line x1="805.5" y1="851" x2="799.5" y2="851" stroke="#000" stroke-width="2.8" />
<line x1="805.5" y1="827.4" x2="799.5" y2="827.4" stroke="#000" stroke-width="2.8" />
<line x1="805.5" y1="803.8" x2="799.5" y2="803.8" stroke="#000" stroke-width="2.8" />
<line x1="805.5" y1="780.2" x2="799.5" y2="780.2" stroke="#000" stroke-width="2.8" />
<line x1="805.5" y1="756.6" x2="799.5" y2="756.6" stroke="#000" stroke-width="2.8" />
<line x1="805.5" y1="733" x2="799.5" y2="733" stroke="#000" stroke-width="2.8" />
<line x1="805.5" y1="709.4" x2="799.5" y2="709.4" stroke="#000" stroke-width="2.8" />
<line x1="805.5" y1="685.8" x2="799.5" y2="685.8" stroke="#000" stroke-width="2.8" />
<text x="818" y="906.9" font-size="27" text-anchor="start" fill="#000" >0</text>
<text x="818" y="859.7" font-size="27" text-anchor="start" fill="#000" >4</text>
<text x="818" y="812.5" font-size="27" text-anchor="start" fill="#000" >8</text>
<text x="818" y="765.3" font-size="27" text-anchor="start" fill="#000" >12</text>
<text x="818" y="718.1" font-size="27" text-anchor="start" fill="#000" >16</text>
<text transform="translate(901 792) rotate(-90)" font-size="27" text-anchor="middle" fill="#000">JJA Insolation contrast</text>
<text transform="translate(934.1 792) rotate(-90)" font-size="27" text-anchor="middle" fill="#000">(30&#176;N minus 30&#176;S</text>
<text transform="translate(966.2 792.5) rotate(-90)" font-size="27" text-anchor="middle">in W m<tspan font-size="18" dy="-10">&#8722;2</tspan><tspan dy="10">)</tspan></text>
<text transform="translate(196.7 786.7) rotate(-90)" font-size="27" text-anchor="middle" fill="#FF0000">African Monsoon</text>
<text transform="translate(229.8 786.4) rotate(-90)" font-size="27" text-anchor="middle" fill="#FF0000">(SD units)</text>
<text x="101.5" y="670.6" font-size="27" text-anchor="middle" fill="#000" >Strong</text>
<text x="101.5" y="904.5" font-size="27" text-anchor="middle" fill="#000" >Weak</text>
<line x1="101.2" y1="699.8" x2="101.2" y2="860.6" stroke="#000" stroke-width="1.8" />
<path d="M101.2 685.3 L96.6 700.8 L105.8 700.8 Z" fill="#000"/>
<path d="M101.2 875.1 L96.6 859.6 L105.8 859.6 Z" fill="#000"/>
<line x1="758.6" y1="756.6" x2="758.6" y2="788" stroke="#000" stroke-width="1.8" stroke-linecap="round"/>
<path d="M758.6 743.3 L753.1 760.6 L758.6 757.9 L764.1 760.6 Z" fill="#000"/>
<text x="0" y="662.5" font-size="42" text-anchor="start" fill="#000" font-weight="bold" >c</text>
<path d="M330.2 1041.8 C332.3 1046.5 338.8 1059.7 343 1069.9 C347.2 1080.1 351 1090.3 355.7 1103.1 C360.4 1115.8 362.5 1139 371 1146.4 C379.5 1153.8 397.3 1146 406.7 1147.7 C416.1 1149.4 416 1157.7 427.1 1156.6 C438.2 1155.5 462.5 1146 473.1 1141.3 C483.7 1136.6 482.8 1133.3 490.9 1128.6 C499 1123.9 513.4 1116.3 521.5 1113.3 C529.6 1110.3 531.3 1113.7 539.4 1110.7 C547.5 1107.7 559.9 1100.5 570 1095.4 C580.1 1090.3 590 1082.6 600 1080 C610 1077.4 622.5 1081.7 630 1080 C637.5 1078.3 640.8 1076.7 645 1070 C649.2 1063.3 652 1050.3 655 1040 C658 1029.7 659.3 1014.1 663 1008 C666.7 1001.9 671.1 1003.6 677.3 1003.6 C683.5 1003.6 693.7 1005.6 700 1008 C706.3 1010.4 709.8 1015.3 715 1018 C720.2 1020.7 723.5 1026.2 731 1024 C738.5 1021.8 751.8 1010.7 760 1005 C768.2 999.3 772.5 993.6 780 990 C787.5 986.4 800.8 984.3 805 983.2 L805 1011.2 C800.8 1010.7 787.5 1006.2 780 1008 C772.5 1009.8 768.2 1016.7 760 1022 C751.8 1027.3 738.5 1038 731 1040 C723.5 1042 721.8 1037 715 1034 C708.2 1031 697.5 1023.5 690 1022 C682.5 1020.5 675 1018.7 670 1025 C665 1031.3 663.3 1048.8 660 1060 C656.7 1071.2 654.2 1084.5 650 1092 C645.8 1099.5 641.5 1102 635 1105 C628.5 1108 619.2 1107.2 611 1110 C602.8 1112.8 592.3 1117.8 585.5 1122 C578.7 1126.2 576.8 1130.5 570 1135 C563.2 1139.5 552.6 1147.5 544.5 1149 C536.4 1150.5 529.1 1146 521.5 1143.9 C513.9 1141.8 507.5 1133.4 498.6 1136.2 C489.7 1139 476.5 1154.5 468 1160.5 C459.5 1166.5 455.3 1167.9 447.6 1171.9 C439.9 1175.9 430.5 1184.5 422 1184.7 C413.5 1184.9 405 1176 396.5 1173.2 C388 1170.4 379.5 1175.5 371 1168.1 C362.5 1160.7 352.3 1138.4 345.5 1128.6 C338.7 1118.8 332.8 1112.6 330.2 1109.4 Z" stroke="none" stroke-width="1" fill="#FFA200" fill-opacity="0.15" clip-path="url(#cp3)"/>
<path d="M330.2 1076.3 C331.9 1079.1 337 1086.7 340.4 1092.9 C343.8 1099.1 347.2 1106.1 350.6 1113.3 C354 1120.5 357.4 1129.2 360.8 1136.2 C364.2 1143.2 367.2 1151.4 371 1155.4 C374.8 1159.5 378.7 1159.5 383.8 1160.5 C388.9 1161.5 396.5 1160.7 401.6 1161.7 C406.7 1162.8 410.6 1165.5 414.4 1166.8 C418.2 1168.1 419.9 1169.4 424.6 1169.4 C429.3 1169.4 436.9 1168.1 442.4 1166.8 C447.9 1165.5 452.7 1164.7 457.8 1161.7 C462.9 1158.7 468.4 1153 473.1 1149 C477.8 1145 482 1140.3 485.8 1137.5 C489.6 1134.7 492.6 1133.7 496 1132.4 C499.4 1131.1 502.4 1130.9 506.2 1129.8 C510 1128.7 514.8 1126.3 519 1126 C523.2 1125.7 527.9 1127.6 531.7 1128.1 C535.5 1128.6 538.1 1129.7 541.9 1129.1 C545.7 1128.5 549.6 1127.1 554.7 1124.7 C559.9 1122.3 567.7 1117.6 572.8 1114.5 C577.9 1111.4 579.1 1109.2 585.5 1106.1 C591.9 1103 603.8 1097.9 611 1095.9 C618.2 1093.9 623.8 1095.2 628.9 1094.1 C634 1092.9 637.8 1092.2 641.6 1089 C645.4 1085.8 648.8 1082 651.8 1075 C654.8 1068 657 1056.7 659.5 1046.9 C662 1037.1 664.6 1022.2 667.1 1016.3 C669.6 1010.3 671.4 1011.6 674.8 1011.2 C678.2 1010.8 682.9 1012.7 687.6 1013.8 C692.3 1014.9 698.2 1015.5 702.9 1017.6 C707.6 1019.7 710.9 1024.1 715.6 1026.5 C720.3 1028.9 726.2 1032.1 730.9 1032.1 C735.6 1032.1 739 1029.5 743.7 1026.5 C748.4 1023.5 753.9 1018.3 759 1013.8 C764.1 1009.3 769.2 1002.3 774.3 999.7 C779.4 997.1 784.6 998.6 789.6 998 C794.6 997.4 801.6 996.2 804 995.9" stroke="#FFA200" stroke-width="6.0" fill="none" clip-path="url(#cp3)"/>
<path d="M325.1 1147.1 C325.8 1147.4 327.8 1148.1 329.1 1148.6 C330.4 1149.1 331.8 1149.6 333.1 1150 C334.4 1150.5 335.8 1151 337.1 1151.4 C338.4 1151.8 339.8 1152.3 341.1 1152.7 C342.4 1153.1 343.8 1153.5 345.1 1153.9 C346.4 1154.3 347.8 1154.7 349.1 1155 C350.4 1155.4 351.8 1155.7 353.1 1156.1 C354.4 1156.4 355.8 1156.7 357.1 1157 C358.4 1157.4 359.8 1157.7 361.1 1157.9 C362.4 1158.2 363.8 1158.5 365.1 1158.8 C366.4 1159 367.8 1159.3 369.1 1159.5 C370.4 1159.7 371.8 1159.9 373.1 1160.1 C374.4 1160.3 375.8 1160.5 377.1 1160.7 C378.4 1160.9 379.8 1161 381.1 1161.2 C382.4 1161.3 383.8 1161.5 385.1 1161.6 C386.4 1161.7 387.8 1161.8 389.1 1161.9 C390.4 1162 391.8 1162.1 393.1 1162.1 C394.4 1162.2 395.8 1162.3 397.1 1162.3 C398.4 1162.3 399.8 1162.4 401.1 1162.4 C402.4 1162.4 403.8 1162.4 405.1 1162.3 C406.4 1162.3 407.8 1162.3 409.1 1162.2 C410.4 1162.2 411.8 1162.1 413.1 1162.1 C414.4 1162 415.8 1161.9 417.1 1161.8 C418.4 1161.7 419.8 1161.6 421.1 1161.4 C422.4 1161.3 423.8 1161.2 425.1 1161 C426.4 1160.9 427.8 1160.7 429.1 1160.5 C430.4 1160.3 431.8 1160.1 433.1 1159.9 C434.4 1159.7 435.8 1159.5 437.1 1159.3 C438.4 1159 439.8 1158.8 441.1 1158.5 C442.4 1158.2 443.8 1158 445.1 1157.7 C446.4 1157.4 447.8 1157.1 449.1 1156.8 C450.4 1156.5 451.8 1156.2 453.1 1155.8 C454.4 1155.5 455.8 1155.1 457.1 1154.8 C458.4 1154.4 459.8 1154 461.1 1153.7 C462.4 1153.3 463.8 1152.9 465.1 1152.5 C466.4 1152.1 467.8 1151.6 469.1 1151.2 C470.4 1150.8 471.8 1150.3 473.1 1149.9 C474.4 1149.4 475.8 1149 477.1 1148.5 C478.4 1148 479.8 1147.5 481.1 1147 C482.4 1146.6 483.8 1146 485.1 1145.5 C486.4 1145 487.8 1144.5 489.1 1144 C490.4 1143.4 491.8 1142.9 493.1 1142.3 C494.4 1141.8 495.8 1141.2 497.1 1140.6 C498.4 1140.1 499.8 1139.5 501.1 1138.9 C502.4 1138.3 503.8 1137.7 505.1 1137.1 C506.4 1136.5 507.8 1135.9 509.1 1135.2 C510.4 1134.6 511.8 1134 513.1 1133.3 C514.4 1132.7 515.8 1132 517.1 1131.4 C518.4 1130.7 519.8 1130.1 521.1 1129.4 C522.4 1128.7 523.8 1128 525.1 1127.3 C526.4 1126.7 527.8 1126 529.1 1125.3 C530.4 1124.6 531.8 1123.9 533.1 1123.1 C534.4 1122.4 535.8 1121.7 537.1 1121 C538.4 1120.3 539.8 1119.5 541.1 1118.8 C542.4 1118.1 543.8 1117.3 545.1 1116.6 C546.4 1115.8 547.8 1115.1 549.1 1114.3 C550.4 1113.6 551.8 1112.8 553.1 1112.1 C554.4 1111.3 555.8 1110.5 557.1 1109.8 C558.4 1109 559.8 1108.2 561.1 1107.4 C562.4 1106.7 563.8 1105.9 565.1 1105.1 C566.4 1104.3 567.8 1103.5 569.1 1102.7 C570.4 1101.9 571.8 1101.1 573.1 1100.3 C574.4 1099.5 575.8 1098.7 577.1 1097.9 C578.4 1097.1 579.8 1096.3 581.1 1095.5 C582.4 1094.7 583.8 1093.9 585.1 1093.1 C586.4 1092.3 587.8 1091.5 589.1 1090.7 C590.4 1089.9 591.8 1089.1 593.1 1088.3 C594.4 1087.5 595.8 1086.7 597.1 1085.8 C598.4 1085 599.8 1084.2 601.1 1083.4 C602.4 1082.6 603.8 1081.8 605.1 1081 C606.4 1080.2 607.8 1079.4 609.1 1078.6 C610.4 1077.8 611.8 1077 613.1 1076.2 C614.4 1075.4 615.8 1074.6 617.1 1073.8 C618.4 1073 619.8 1072.2 621.1 1071.4 C622.4 1070.6 623.8 1069.8 625.1 1069 C626.4 1068.2 627.8 1067.4 629.1 1066.6 C630.4 1065.8 631.8 1065 633.1 1064.3 C634.4 1063.5 635.8 1062.7 637.1 1061.9 C638.4 1061.2 639.8 1060.4 641.1 1059.6 C642.4 1058.9 643.8 1058.1 645.1 1057.4 C646.4 1056.6 647.8 1055.8 649.1 1055.1 C650.4 1054.3 651.8 1053.6 653.1 1052.9 C654.4 1052.1 655.8 1051.4 657.1 1050.7 C658.4 1049.9 659.8 1049.2 661.1 1048.5 C662.4 1047.8 663.8 1047.1 665.1 1046.4 C666.4 1045.7 667.8 1045 669.1 1044.3 C670.4 1043.6 671.8 1042.9 673.1 1042.2 C674.4 1041.5 675.8 1040.9 677.1 1040.2 C678.4 1039.5 679.8 1038.9 681.1 1038.2 C682.4 1037.6 683.8 1036.9 685.1 1036.3 C686.4 1035.6 687.8 1035 689.1 1034.4 C690.4 1033.8 691.8 1033.1 693.1 1032.5 C694.4 1031.9 695.8 1031.3 697.1 1030.7 C698.4 1030.1 699.8 1029.5 701.1 1029 C702.4 1028.4 703.8 1027.8 705.1 1027.3 C706.4 1026.7 707.8 1026.1 709.1 1025.6 C710.4 1025 711.8 1024.5 713.1 1024 C714.4 1023.5 715.8 1022.9 717.1 1022.4 C718.4 1021.9 719.8 1021.4 721.1 1020.9 C722.4 1020.4 723.8 1019.9 725.1 1019.5 C726.4 1019 727.8 1018.5 729.1 1018.1 C730.4 1017.6 731.8 1017.2 733.1 1016.7 C734.4 1016.3 735.8 1015.9 737.1 1015.4 C738.4 1015 739.8 1014.6 741.1 1014.2 C742.4 1013.8 743.8 1013.4 745.1 1013 C746.4 1012.7 747.8 1012.3 749.1 1011.9 C750.4 1011.6 751.8 1011.2 753.1 1010.9 C754.4 1010.5 755.8 1010.2 757.1 1009.9 C758.4 1009.5 759.8 1009.2 761.1 1008.9 C762.4 1008.6 763.8 1008.3 765.1 1008 C766.4 1007.7 767.8 1007.5 769.1 1007.2 C770.4 1006.9 771.8 1006.7 773.1 1006.4 C774.4 1006.2 775.8 1005.9 777.1 1005.7 C778.4 1005.5 779.8 1005.2 781.1 1005 C782.4 1004.8 783.8 1004.6 785.1 1004.4 C786.4 1004.2 787.8 1004 789.1 1003.9 C790.4 1003.7 791.8 1003.5 793.1 1003.4 C794.4 1003.2 795.8 1003.1 797.1 1002.9 C798.4 1002.8 799.8 1002.6 801.1 1002.5 C802.4 1002.4 804.4 1002.2 805 1002.2" stroke="#666666" stroke-width="6.0" fill="none" clip-path="url(#cp3)"/>
<line x1="324.8" y1="952.6" x2="324.8" y2="1245.2" stroke="#FFA200" stroke-width="3" stroke-linecap="square"/>
<line x1="324.8" y1="952.6" x2="330.3" y2="952.6" stroke="#FFA200" stroke-width="2.8" />
<line x1="324.8" y1="1001.4" x2="330.3" y2="1001.4" stroke="#FFA200" stroke-width="2.8" />
<line x1="324.8" y1="1050.1" x2="330.3" y2="1050.1" stroke="#FFA200" stroke-width="2.8" />
<line x1="324.8" y1="1098.9" x2="330.3" y2="1098.9" stroke="#FFA200" stroke-width="2.8" />
<line x1="324.8" y1="1147.7" x2="330.3" y2="1147.7" stroke="#FFA200" stroke-width="2.8" />
<line x1="324.8" y1="1196.4" x2="330.3" y2="1196.4" stroke="#FFA200" stroke-width="2.8" />
<line x1="324.8" y1="1245.2" x2="330.3" y2="1245.2" stroke="#FFA200" stroke-width="2.8" />
<text x="310.8" y="1008.9" font-size="27" text-anchor="end" fill="#FFA200" >1</text>
<text x="310.8" y="1057.6" font-size="27" text-anchor="end" fill="#FFA200" >0.5</text>
<text x="310.8" y="1106.4" font-size="27" text-anchor="end" fill="#FFA200" >0</text>
<text x="310.8" y="1155.2" font-size="27" text-anchor="end" fill="#FFA200" >&#8722;0.5</text>
<text x="310.8" y="1203.9" font-size="27" text-anchor="end" fill="#FFA200" >&#8722;1</text>
<line x1="805.5" y1="991.4" x2="805.5" y2="1177.5" stroke="#666666" stroke-width="3" />
<line x1="805.5" y1="1177.5" x2="799.5" y2="1177.5" stroke="#666666" stroke-width="2.8" />
<line x1="805.5" y1="1146.5" x2="799.5" y2="1146.5" stroke="#666666" stroke-width="2.8" />
<line x1="805.5" y1="1115.5" x2="799.5" y2="1115.5" stroke="#666666" stroke-width="2.8" />
<line x1="805.5" y1="1084.5" x2="799.5" y2="1084.5" stroke="#666666" stroke-width="2.8" />
<line x1="805.5" y1="1053.5" x2="799.5" y2="1053.5" stroke="#666666" stroke-width="2.8" />
<line x1="805.5" y1="1022.5" x2="799.5" y2="1022.5" stroke="#666666" stroke-width="2.8" />
<line x1="805.5" y1="991.5" x2="799.5" y2="991.5" stroke="#666666" stroke-width="2.8" />
<text x="818" y="1155.2" font-size="27" text-anchor="start" fill="#666666" >0</text>
<text x="818" y="1124.2" font-size="27" text-anchor="start" fill="#666666" >2</text>
<text x="818" y="1093.2" font-size="27" text-anchor="start" fill="#666666" >4</text>
<text x="818" y="1062.2" font-size="27" text-anchor="start" fill="#666666" >6</text>
<text x="818" y="1031.2" font-size="27" text-anchor="start" fill="#666666" >8</text>
<text transform="translate(886 1084.5) rotate(-90)" font-size="27" text-anchor="middle" fill="#666666">DJF Insolation contrast</text>
<text transform="translate(918.9 1084.5) rotate(-90)" font-size="27" text-anchor="middle" fill="#666666">(30&#176;N minus 30&#176;S</text>
<text transform="translate(950.9 1084.5) rotate(-90)" font-size="27" text-anchor="middle" fill="#666666">in W m<tspan font-size="18" dy="-10">&#8722;2</tspan><tspan dy="10">)</tspan></text>
<text transform="translate(165 1098.6) rotate(-90)" font-size="27" text-anchor="middle" fill="#FFA200">Southern African</text>
<text transform="translate(197.1 1098.6) rotate(-90)" font-size="27" text-anchor="middle" fill="#FFA200">Precipitation Dipole</text>
<text transform="translate(230.3 1098.6) rotate(-90)" font-size="27" text-anchor="middle" fill="#FFA200">(SD units)</text>
<line x1="758.6" y1="1051.3" x2="758.6" y2="1082.7" stroke="#000" stroke-width="1.8" stroke-linecap="round"/>
<path d="M758.6 1038 L753.1 1055.3 L758.6 1052.6 L764.1 1055.3 Z" fill="#000"/>
<text x="0" y="987" font-size="42" text-anchor="start" fill="#000" font-weight="bold" >d</text>
<path d="M330.2 1383.7 C332.8 1390.3 339.1 1407.8 345.5 1423.3 C351.9 1438.8 358.3 1468.7 368.5 1476.8 C378.7 1484.9 397.8 1471.7 406.7 1471.7 C415.6 1471.7 415.2 1476 422 1476.8 C428.8 1477.6 439.1 1482.3 447.6 1476.8 C456.1 1471.3 466.7 1450.3 473.1 1443.7 C479.5 1437.1 481.2 1437.9 485.8 1437.3 C490.4 1436.7 494.6 1444.9 501 1440 C507.4 1435.1 517.7 1417 524.1 1408 C530.5 1399 535.1 1393.1 539.4 1386.3 C543.6 1379.5 546.2 1372.2 549.6 1367.1 C553 1362 554 1360.8 560 1355.7 C566 1350.6 577 1338 585.5 1336.5 C594 1335 602.5 1341.8 611 1346.7 C619.5 1351.6 630 1365.4 636.5 1365.9 C643 1366.5 645.8 1357 650 1350 C654.2 1343 656.6 1331.1 662 1323.8 C667.4 1316.5 675.6 1306.8 682.4 1305.9 C689.2 1305.1 697.8 1314 702.9 1318.7 C708 1323.4 708.6 1331.1 713.1 1334 C717.6 1336.9 721.5 1339.2 730 1336 C738.5 1332.8 755.4 1320 764.1 1314.8 C772.8 1309.6 775.2 1308.4 782 1304.6 C788.8 1300.8 801.2 1294 805 1291.9 L805 1318.7 C803.3 1319.3 799.4 1322.1 794.7 1322.5 C790 1322.9 782.6 1318.3 776.8 1321.2 C771 1324.1 766.4 1334.9 760 1340 C753.6 1345.1 746.9 1351 738.6 1351.8 C730.3 1352.6 718.5 1349 710 1345 C701.5 1341 695.1 1327.6 687.6 1327.6 C680.1 1327.6 670.8 1338.4 665 1345 C659.2 1351.6 656.5 1359.9 652.7 1367 C648.9 1374.1 647.5 1382.3 642.4 1387.8 C637.3 1393.3 628.8 1397 622 1400 C615.2 1403 608.4 1403.8 601.6 1406 C594.8 1408.2 587.8 1410.6 581 1413.3 C574.2 1416 567.6 1419.5 560.8 1422.4 C554 1425.4 546.5 1428.1 540.4 1431 C534.3 1433.9 531.1 1437 524.1 1440 C517.1 1443 507.1 1444.8 498.6 1448.8 C490.1 1452.8 481.2 1457.7 473.1 1464.1 C465 1470.5 456.5 1478.5 450.1 1487 C443.7 1495.5 440.3 1507.9 434.8 1515.1 C429.3 1522.3 424.5 1530.2 416.9 1530.4 C409.2 1530.6 396.5 1521.5 388.9 1516.4 C381.2 1511.3 376.9 1508.5 371 1499.8 C365.1 1491.1 360 1471.5 353.2 1464.1 C346.4 1456.7 334 1456.7 330.2 1455.2 Z" stroke="none" stroke-width="1" fill="#F0592A" fill-opacity="0.3" clip-path="url(#cp4)"/>
<path d="M325.1 1501.3 C325.8 1501.4 327.8 1501.6 329.1 1501.7 C330.4 1501.8 331.8 1501.9 333.1 1501.9 C334.4 1502 335.8 1502.1 337.1 1502.1 C338.4 1502.1 339.8 1502.1 341.1 1502.2 C342.4 1502.2 343.8 1502.1 345.1 1502.1 C346.4 1502.1 347.8 1502 349.1 1502 C350.4 1501.9 351.8 1501.9 353.1 1501.8 C354.4 1501.7 355.8 1501.6 357.1 1501.5 C358.4 1501.4 359.8 1501.3 361.1 1501.2 C362.4 1501.1 363.8 1500.9 365.1 1500.8 C366.4 1500.6 367.8 1500.5 369.1 1500.3 C370.4 1500.1 371.8 1500 373.1 1499.8 C374.4 1499.6 375.8 1499.4 377.1 1499.2 C378.4 1499 379.8 1498.8 381.1 1498.6 C382.4 1498.4 383.8 1498.2 385.1 1497.9 C386.4 1497.7 387.8 1497.5 389.1 1497.2 C390.4 1497 391.8 1496.7 393.1 1496.5 C394.4 1496.2 395.8 1495.9 397.1 1495.7 C398.4 1495.4 399.8 1495.1 401.1 1494.8 C402.4 1494.5 403.8 1494.2 405.1 1493.9 C406.4 1493.6 407.8 1493.3 409.1 1493 C410.4 1492.7 411.8 1492.4 413.1 1492.1 C414.4 1491.8 415.8 1491.4 417.1 1491.1 C418.4 1490.8 419.8 1490.4 421.1 1490.1 C422.4 1489.7 423.8 1489.4 425.1 1489 C426.4 1488.6 427.8 1488.3 429.1 1487.9 C430.4 1487.5 431.8 1487.2 433.1 1486.8 C434.4 1486.4 435.8 1486 437.1 1485.6 C438.4 1485.2 439.8 1484.8 441.1 1484.4 C442.4 1484 443.8 1483.6 445.1 1483.1 C446.4 1482.7 447.8 1482.3 449.1 1481.9 C450.4 1481.4 451.8 1481 453.1 1480.5 C454.4 1480.1 455.8 1479.6 457.1 1479.2 C458.4 1478.7 459.8 1478.2 461.1 1477.8 C462.4 1477.3 463.8 1476.8 465.1 1476.3 C466.4 1475.8 467.8 1475.3 469.1 1474.8 C470.4 1474.3 471.8 1473.8 473.1 1473.3 C474.4 1472.8 475.8 1472.3 477.1 1471.7 C478.4 1471.2 479.8 1470.7 481.1 1470.1 C482.4 1469.6 483.8 1469 485.1 1468.4 C486.4 1467.9 487.8 1467.3 489.1 1466.7 C490.4 1466.2 491.8 1465.6 493.1 1465 C494.4 1464.4 495.8 1463.8 497.1 1463.2 C498.4 1462.6 499.8 1462 501.1 1461.3 C502.4 1460.7 503.8 1460.1 505.1 1459.5 C506.4 1458.8 507.8 1458.2 509.1 1457.5 C510.4 1456.9 511.8 1456.2 513.1 1455.5 C514.4 1454.9 515.8 1454.2 517.1 1453.5 C518.4 1452.8 519.8 1452.1 521.1 1451.4 C522.4 1450.7 523.8 1450 525.1 1449.3 C526.4 1448.6 527.8 1447.9 529.1 1447.1 C530.4 1446.4 531.8 1445.7 533.1 1444.9 C534.4 1444.2 535.8 1443.4 537.1 1442.7 C538.4 1441.9 539.8 1441.2 541.1 1440.4 C542.4 1439.6 543.8 1438.8 545.1 1438 C546.4 1437.3 547.8 1436.5 549.1 1435.7 C550.4 1434.9 551.8 1434.1 553.1 1433.3 C554.4 1432.4 555.8 1431.6 557.1 1430.8 C558.4 1430 559.8 1429.1 561.1 1428.3 C562.4 1427.5 563.8 1426.6 565.1 1425.8 C566.4 1424.9 567.8 1424.1 569.1 1423.2 C570.4 1422.3 571.8 1421.5 573.1 1420.6 C574.4 1419.7 575.8 1418.9 577.1 1418 C578.4 1417.1 579.8 1416.2 581.1 1415.3 C582.4 1414.5 583.8 1413.6 585.1 1412.7 C586.4 1411.8 587.8 1410.9 589.1 1410 C590.4 1409.1 591.8 1408.2 593.1 1407.3 C594.4 1406.4 595.8 1405.4 597.1 1404.5 C598.4 1403.6 599.8 1402.7 601.1 1401.8 C602.4 1400.9 603.8 1399.9 605.1 1399 C606.4 1398.1 607.8 1397.2 609.1 1396.3 C610.4 1395.3 611.8 1394.4 613.1 1393.5 C614.4 1392.6 615.8 1391.6 617.1 1390.7 C618.4 1389.8 619.8 1388.9 621.1 1387.9 C622.4 1387 623.8 1386.1 625.1 1385.2 C626.4 1384.3 627.8 1383.3 629.1 1382.4 C630.4 1381.5 631.8 1380.6 633.1 1379.7 C634.4 1378.8 635.8 1377.8 637.1 1376.9 C638.4 1376 639.8 1375.1 641.1 1374.2 C642.4 1373.3 643.8 1372.4 645.1 1371.5 C646.4 1370.6 647.8 1369.7 649.1 1368.8 C650.4 1368 651.8 1367.1 653.1 1366.2 C654.4 1365.3 655.8 1364.5 657.1 1363.6 C658.4 1362.7 659.8 1361.9 661.1 1361 C662.4 1360.2 663.8 1359.3 665.1 1358.5 C666.4 1357.6 667.8 1356.8 669.1 1356 C670.4 1355.2 671.8 1354.3 673.1 1353.5 C674.4 1352.7 675.8 1351.9 677.1 1351.1 C678.4 1350.3 679.8 1349.6 681.1 1348.8 C682.4 1348 683.8 1347.2 685.1 1346.5 C686.4 1345.7 687.8 1345 689.1 1344.2 C690.4 1343.5 691.8 1342.8 693.1 1342.1 C694.4 1341.3 695.8 1340.6 697.1 1339.9 C698.4 1339.2 699.8 1338.6 701.1 1337.9 C702.4 1337.2 703.8 1336.5 705.1 1335.9 C706.4 1335.2 707.8 1334.6 709.1 1334 C710.4 1333.3 711.8 1332.7 713.1 1332.1 C714.4 1331.5 715.8 1330.9 717.1 1330.3 C718.4 1329.7 719.8 1329.1 721.1 1328.6 C722.4 1328 723.8 1327.5 725.1 1326.9 C726.4 1326.4 727.8 1325.9 729.1 1325.4 C730.4 1324.8 731.8 1324.3 733.1 1323.8 C734.4 1323.3 735.8 1322.9 737.1 1322.4 C738.4 1321.9 739.8 1321.5 741.1 1321 C742.4 1320.6 743.8 1320.1 745.1 1319.7 C746.4 1319.3 747.8 1318.9 749.1 1318.5 C750.4 1318.1 751.8 1317.7 753.1 1317.3 C754.4 1316.9 755.8 1316.5 757.1 1316.2 C758.4 1315.8 759.8 1315.4 761.1 1315.1 C762.4 1314.8 763.8 1314.4 765.1 1314.1 C766.4 1313.8 767.8 1313.4 769.1 1313.1 C770.4 1312.8 771.8 1312.5 773.1 1312.2 C774.4 1311.9 775.8 1311.6 777.1 1311.3 C778.4 1311 779.8 1310.7 781.1 1310.4 C782.4 1310.1 783.8 1309.9 785.1 1309.6 C786.4 1309.3 787.8 1309 789.1 1308.7 C790.4 1308.5 791.8 1308.2 793.1 1307.9 C794.4 1307.6 795.8 1307.4 797.1 1307.1 C798.4 1306.8 799.8 1306.5 801.1 1306.2 C802.4 1305.9 804.4 1305.5 805 1305.3" stroke="#000" stroke-width="6.0" fill="none" clip-path="url(#cp4)"/>
<path d="M330.2 1420.2 C332.3 1423.3 338.8 1431.5 343 1438.6 C347.2 1445.7 351.2 1454.7 355.7 1462.8 C360.1 1470.9 365 1481.8 369.7 1487 C374.4 1492.2 378.9 1492.5 383.8 1494.2 C388.7 1495.9 393.2 1495.6 399.1 1497.2 C405.1 1498.8 414 1503.6 419.5 1503.6 C425 1503.6 427.9 1499.8 432.2 1497.2 C436.4 1494.7 440.3 1493 445 1488.3 C449.7 1483.6 455.6 1474.7 460.3 1469.2 C465 1463.7 468.9 1459 473.1 1455.2 C477.4 1451.4 481.1 1448.1 485.8 1446.2 C490.5 1444.3 497.3 1444.8 501.1 1443.7 C504.9 1442.6 505.4 1442.8 508.8 1439.8 C512.2 1436.8 516.4 1430.2 521.5 1425.8 C526.6 1421.3 533.9 1418 539.4 1413.1 C544.9 1408.2 549.1 1401.2 554.7 1396.5 C560.3 1391.8 567.7 1388.3 572.8 1385 C577.9 1381.7 580.4 1378.5 585.5 1376.8 C590.6 1375.1 597.9 1374.7 603.4 1374.8 C608.9 1374.9 613.6 1376.1 618.7 1377.3 C623.8 1378.5 629.8 1382.1 634 1381.9 C638.2 1381.7 640.8 1379.8 644.2 1376.1 C647.6 1372.4 651 1366.5 654.4 1359.5 C657.8 1352.5 661.2 1340.6 664.6 1334 C668 1327.4 671.4 1322.6 674.8 1320 C678.2 1317.4 681.2 1317.6 685 1318.2 C688.8 1318.8 693.5 1321.2 697.8 1323.8 C702 1326.4 706.2 1331 710.5 1334 C714.8 1337 719 1340.3 723.3 1342.1 C727.5 1343.9 731.8 1345.5 736 1345 C740.2 1344.5 744.5 1342 748.8 1339.1 C753 1336.2 757.2 1331.8 761.5 1327.6 C765.8 1323.3 770.5 1316.4 774.3 1313.6 C778.1 1310.8 780.7 1311.7 784.5 1311 C788.3 1310.3 794 1310.3 797.2 1309.7 C800.5 1309.1 802.9 1307.6 804 1307.2" stroke="#F0592A" stroke-width="6.0" fill="none" clip-path="url(#cp4)"/>
<line x1="324.8" y1="1265.8" x2="324.8" y2="1558.4" stroke="#F0592A" stroke-width="3" stroke-linecap="square"/>
<line x1="324.8" y1="1265.8" x2="330.3" y2="1265.8" stroke="#F0592A" stroke-width="2.8" />
<line x1="324.8" y1="1314.6" x2="330.3" y2="1314.6" stroke="#F0592A" stroke-width="2.8" />
<line x1="324.8" y1="1363.3" x2="330.3" y2="1363.3" stroke="#F0592A" stroke-width="2.8" />
<line x1="324.8" y1="1412.1" x2="330.3" y2="1412.1" stroke="#F0592A" stroke-width="2.8" />
<line x1="324.8" y1="1460.9" x2="330.3" y2="1460.9" stroke="#F0592A" stroke-width="2.8" />
<line x1="324.8" y1="1509.6" x2="330.3" y2="1509.6" stroke="#F0592A" stroke-width="2.8" />
<line x1="324.8" y1="1558.4" x2="330.3" y2="1558.4" stroke="#F0592A" stroke-width="2.8" />
<text x="310.8" y="1321.1" font-size="27" text-anchor="end" fill="#F0592A" >1</text>
<text x="310.8" y="1369.8" font-size="27" text-anchor="end" fill="#F0592A" >0.5</text>
<text x="310.8" y="1418.6" font-size="27" text-anchor="end" fill="#F0592A" >0</text>
<text x="310.8" y="1467.4" font-size="27" text-anchor="end" fill="#F0592A" >&#8722;0.5</text>
<text x="310.8" y="1516.1" font-size="27" text-anchor="end" fill="#F0592A" >&#8722;1</text>
<line x1="805.5" y1="1290" x2="805.5" y2="1518" stroke="#000" stroke-width="3" />
<line x1="805.5" y1="1500.5" x2="799.5" y2="1500.5" stroke="#000" stroke-width="2.8" />
<line x1="805.5" y1="1468.3" x2="799.5" y2="1468.3" stroke="#000" stroke-width="2.8" />
<line x1="805.5" y1="1436" x2="799.5" y2="1436" stroke="#000" stroke-width="2.8" />
<line x1="805.5" y1="1403.8" x2="799.5" y2="1403.8" stroke="#000" stroke-width="2.8" />
<line x1="805.5" y1="1371.5" x2="799.5" y2="1371.5" stroke="#000" stroke-width="2.8" />
<line x1="805.5" y1="1339.3" x2="799.5" y2="1339.3" stroke="#000" stroke-width="2.8" />
<line x1="805.5" y1="1307.1" x2="799.5" y2="1307.1" stroke="#000" stroke-width="2.8" />
<text x="818" y="1509.2" font-size="27" text-anchor="start" fill="#000" >0</text>
<text x="818" y="1477" font-size="27" text-anchor="start" fill="#000" >&#8722;2</text>
<text x="818" y="1444.7" font-size="27" text-anchor="start" fill="#000" >&#8722;4</text>
<text x="818" y="1412.5" font-size="27" text-anchor="start" fill="#000" >&#8722;6</text>
<text x="818" y="1380.2" font-size="27" text-anchor="start" fill="#000" >&#8722;8</text>
<text x="818" y="1348" font-size="27" text-anchor="start" fill="#000" >&#8722;10</text>
<text x="818" y="1315.8" font-size="27" text-anchor="start" fill="#000" >&#8722;12</text>
<text transform="translate(908.3 1404) rotate(-90)" font-size="27" text-anchor="middle" fill="#000">JJA Insolation contrast</text>
<text transform="translate(941.2 1404) rotate(-90)" font-size="27" text-anchor="middle" fill="#000">(60&#176;S minus 30&#176;S</text>
<text transform="translate(973.2 1404.5) rotate(-90)" font-size="27" text-anchor="middle">in W m<tspan font-size="18" dy="-10">&#8722;2</tspan><tspan dy="10">)</tspan></text>
<text transform="translate(196.7 1411.9) rotate(-90)" font-size="27" text-anchor="middle" fill="#F0592A">Southwestern African</text>
<text transform="translate(228.6 1412.5) rotate(-90)" font-size="27" text-anchor="middle" fill="#F0592A">Precipitation (SD units)</text>
<line x1="758.6" y1="1363.3" x2="758.6" y2="1394.7" stroke="#000" stroke-width="1.8" stroke-linecap="round"/>
<path d="M758.6 1408 L753.1 1390.7 L758.6 1393.4 L764.1 1390.7 Z" fill="#000"/>
<text x="0" y="1287.6" font-size="42" text-anchor="start" fill="#000" font-weight="bold" >e</text>
<text x="114.7" y="1320" font-size="27" text-anchor="middle" fill="#000" >Wet</text>
<path d="M328.9 1806 C334.1 1792 353 1740.2 360 1722 C367 1703.8 367 1704 371 1697 C375 1690 377.5 1684.2 383.8 1679.7 C390.1 1675.2 398.4 1676.4 409 1670 C419.6 1663.6 439.5 1646.8 447.6 1641.4 C455.7 1636 452.7 1638 457.8 1637.6 C462.9 1637.2 472.2 1640 478.2 1638.9 C484.1 1637.8 487.6 1634.3 493.5 1631.2 C499.4 1628.1 508.8 1622 513.9 1620.5 C519 1619 518.1 1619.2 524.1 1622.3 C530.1 1625.4 543.6 1634 549.6 1638.9 C555.6 1643.8 554 1644.8 560 1651.6 C566 1658.4 578.3 1672.9 585.5 1679.7 C592.7 1686.5 598.4 1688.6 603.4 1692.4 C608.4 1696.2 610 1702.7 615.5 1702.5 C621 1702.3 628.8 1691.8 636.5 1691.2 C644.2 1690.6 655.6 1693.9 662 1698.8 C668.4 1703.7 670.1 1711.1 674.8 1720.5 C679.5 1729.9 684.5 1744.2 690 1755 C695.5 1765.8 702.9 1778.8 708 1785 C713.1 1791.2 714.8 1790 720.7 1792 C726.7 1794 736.5 1800 743.7 1797 C750.9 1794 757.3 1780.5 764.1 1774.1 C770.9 1767.7 777.7 1758.4 784.5 1758.8 C791.3 1759.2 801.6 1773.6 805 1776.6 L805 1807.2 C801.6 1806.6 790.9 1802.8 784.5 1803.4 C778.1 1804.1 773.4 1810.5 766.6 1811.1 C759.8 1811.7 751.8 1809.1 743.7 1807.2 C735.6 1805.3 724.7 1802 718.2 1799.6 C711.8 1797.2 709.7 1798.8 705 1793 C700.3 1787.2 695 1774.1 690 1765 C685 1755.9 680.3 1745 674.8 1738.4 C669.3 1731.8 662.7 1730 656.9 1725.6 C651.1 1721.2 646.9 1715.2 640 1712 C633.1 1708.8 622.5 1705.1 615.5 1706.5 C608.5 1707.9 604.1 1721.1 598.3 1720.5 C592.4 1719.9 585.1 1707.8 580.4 1702.7 C575.7 1697.6 573.9 1695.9 570 1689.9 C566.1 1683.9 561.5 1672.4 557.2 1666.9 C553 1661.4 550 1656.3 544.5 1656.7 C539 1657.1 530.9 1663.5 524.1 1669.5 C517.3 1675.5 509.6 1686.7 503.7 1692.4 C497.8 1698.1 493.5 1704.3 488.4 1703.9 C483.3 1703.5 477.8 1696.1 473.1 1689.9 C468.4 1683.8 465 1673.8 460.3 1667 C455.6 1660.2 453.6 1647.6 445 1649.1 C436.4 1650.6 419.2 1669.2 409 1676 C398.8 1682.8 390.1 1685.5 383.8 1690 C377.5 1694.5 375 1696.5 371 1703 C367 1709.5 367 1710.7 360 1729 C353 1747.3 334.1 1799 328.9 1813 Z" stroke="none" stroke-width="1" fill="#B08D00" fill-opacity="0.3" clip-path="url(#cp5)"/>
<path d="M328.9 1809.8 C330.8 1804.7 336.8 1789 340.4 1779.2 C344 1769.4 347.2 1760 350.6 1751.1 C354 1742.2 357.4 1734.1 360.8 1725.6 C364.2 1717.1 367.6 1706.5 371 1700.1 C374.4 1693.7 376.9 1690.8 381.2 1687.3 C385.4 1683.8 391.8 1681.5 396.5 1679.2 C401.2 1676.9 405.1 1676 409.3 1673.3 C413.6 1670.6 417.8 1666.4 422 1663.1 C426.2 1659.8 430.1 1656.4 434.8 1653.7 C439.5 1651 445.9 1647.4 450.1 1647 C454.4 1646.6 456.5 1648.4 460.3 1651.1 C464.1 1653.8 468.9 1659.9 473.1 1663.1 C477.4 1666.2 481.6 1669.6 485.8 1670 C490.1 1670.4 494.4 1668.1 498.6 1665.7 C502.9 1663.3 507.1 1658.6 511.3 1655.5 C515.5 1652.4 519.9 1648.7 524.1 1647 C528.4 1645.3 532.5 1644.7 536.8 1645.3 C541 1645.9 545.8 1647.7 549.6 1650.4 C553.4 1653.2 555.9 1657.3 559.8 1661.8 C563.7 1666.2 568.5 1672 572.8 1677.1 C577.1 1682.2 581.7 1688.1 585.5 1692.4 C589.3 1696.8 591.5 1700.7 595.7 1703.2 C600 1705.7 606.3 1706.9 611 1707.2 C615.7 1707.5 619.5 1705.8 623.8 1705.2 C628 1704.7 632.2 1703.3 636.5 1703.9 C640.8 1704.5 644.6 1706.9 649.3 1709 C654 1711.1 660.4 1713.3 664.6 1716.7 C668.9 1720.1 671.4 1724.1 674.8 1729.4 C678.2 1734.7 681.6 1741.6 685 1748.6 C688.4 1755.6 691.4 1764.7 695.2 1771.5 C699 1778.3 703.8 1785.4 708 1789.4 C712.2 1793.5 716.5 1794.4 720.7 1795.8 C725 1797.2 729.7 1796.9 733.5 1797.8 C737.3 1798.7 740.3 1801 743.7 1800.9 C747.1 1800.8 750.5 1798.7 753.9 1797 C757.3 1795.3 760.7 1792.6 764.1 1790.7 C767.5 1788.8 770.9 1787.2 774.3 1785.6 C777.7 1784 781.1 1781.4 784.5 1781.2 C787.9 1781 791.5 1782.5 794.7 1784.3 C798 1786.1 802.5 1790.6 804 1791.9" stroke="#B08D00" stroke-width="6.0" fill="none" clip-path="url(#cp5)"/>
<line x1="324.8" y1="1578.5" x2="324.8" y2="1868.1" stroke="#B08D00" stroke-width="3" stroke-linecap="square"/>
<line x1="324.8" y1="1578.5" x2="330.3" y2="1578.5" stroke="#B08D00" stroke-width="2.8" />
<line x1="324.8" y1="1627.3" x2="330.3" y2="1627.3" stroke="#B08D00" stroke-width="2.8" />
<line x1="324.8" y1="1676" x2="330.3" y2="1676" stroke="#B08D00" stroke-width="2.8" />
<line x1="324.8" y1="1724.8" x2="330.3" y2="1724.8" stroke="#B08D00" stroke-width="2.8" />
<line x1="324.8" y1="1773.6" x2="330.3" y2="1773.6" stroke="#B08D00" stroke-width="2.8" />
<line x1="324.8" y1="1822.3" x2="330.3" y2="1822.3" stroke="#B08D00" stroke-width="2.8" />
<text x="310.8" y="1632.8" font-size="27" text-anchor="end" fill="#B08D00" >1</text>
<text x="310.8" y="1681.5" font-size="27" text-anchor="end" fill="#B08D00" >0.5</text>
<text x="310.8" y="1730.3" font-size="27" text-anchor="end" fill="#B08D00" >0</text>
<text x="310.8" y="1779.1" font-size="27" text-anchor="end" fill="#B08D00" >&#8722;0.5</text>
<text x="310.8" y="1827.8" font-size="27" text-anchor="end" fill="#B08D00" >&#8722;1</text>
<text transform="translate(196.9 1724.7) rotate(-90)" font-size="27" text-anchor="middle" fill="#B08D00">Southeastern African</text>
<text transform="translate(229.4 1724.7) rotate(-90)" font-size="27" text-anchor="middle" fill="#B08D00">Precipitation (SD units)</text>
<text x="0" y="1608.9" font-size="42" text-anchor="start" fill="#000" font-weight="bold" >f</text>
<text x="115" y="1829.8" font-size="27" text-anchor="middle" fill="#000" >Dry</text>
<line x1="114.4" y1="1351.6" x2="114.4" y2="1786.3" stroke="#000" stroke-width="1.8" />
<path d="M114.4 1337.1 L109.8 1352.6 L119 1352.6 Z" fill="#000"/>
<path d="M114.4 1800.8 L109.8 1785.3 L119 1785.3 Z" fill="#000"/>
<line x1="323.3" y1="1871.3" x2="807" y2="1871.3" stroke="#000" stroke-width="3" />
<line x1="324.8" y1="1864" x2="324.8" y2="1871.3" stroke="#000" stroke-width="3" />
<line x1="372.9" y1="1864" x2="372.9" y2="1871.3" stroke="#000" stroke-width="2.8" />
<line x1="420.9" y1="1864" x2="420.9" y2="1871.3" stroke="#000" stroke-width="2.8" />
<line x1="469" y1="1864" x2="469" y2="1871.3" stroke="#000" stroke-width="2.8" />
<line x1="517.1" y1="1864" x2="517.1" y2="1871.3" stroke="#000" stroke-width="2.8" />
<line x1="565.1" y1="1864" x2="565.1" y2="1871.3" stroke="#000" stroke-width="2.8" />
<line x1="613.2" y1="1864" x2="613.2" y2="1871.3" stroke="#000" stroke-width="2.8" />
<line x1="661.3" y1="1864" x2="661.3" y2="1871.3" stroke="#000" stroke-width="2.8" />
<line x1="709.4" y1="1864" x2="709.4" y2="1871.3" stroke="#000" stroke-width="2.8" />
<line x1="757.4" y1="1864" x2="757.4" y2="1871.3" stroke="#000" stroke-width="2.8" />
<line x1="805.5" y1="1864" x2="805.5" y2="1871.3" stroke="#000" stroke-width="2.8" />
<text x="324.8" y="1904.8" font-size="27" text-anchor="middle" fill="#000" >0</text>
<text x="372.9" y="1904.8" font-size="27" text-anchor="middle" fill="#000" >1</text>
<text x="420.9" y="1904.8" font-size="27" text-anchor="middle" fill="#000" >2</text>
<text x="469" y="1904.8" font-size="27" text-anchor="middle" fill="#000" >3</text>
<text x="517.1" y="1904.8" font-size="27" text-anchor="middle" fill="#000" >4</text>
<text x="565.1" y="1904.8" font-size="27" text-anchor="middle" fill="#000" >5</text>
<text x="613.2" y="1904.8" font-size="27" text-anchor="middle" fill="#000" >6</text>
<text x="661.3" y="1904.8" font-size="27" text-anchor="middle" fill="#000" >7</text>
<text x="709.4" y="1904.8" font-size="27" text-anchor="middle" fill="#000" >8</text>
<text x="757.4" y="1904.8" font-size="27" text-anchor="middle" fill="#000" >9</text>
<text x="805.5" y="1904.8" font-size="27" text-anchor="middle" fill="#000" >10</text>
<text x="564.5" y="1945.2" font-size="27" text-anchor="middle" fill="#000" >Age (kyr BP)</text>
</svg>
</body></html>
